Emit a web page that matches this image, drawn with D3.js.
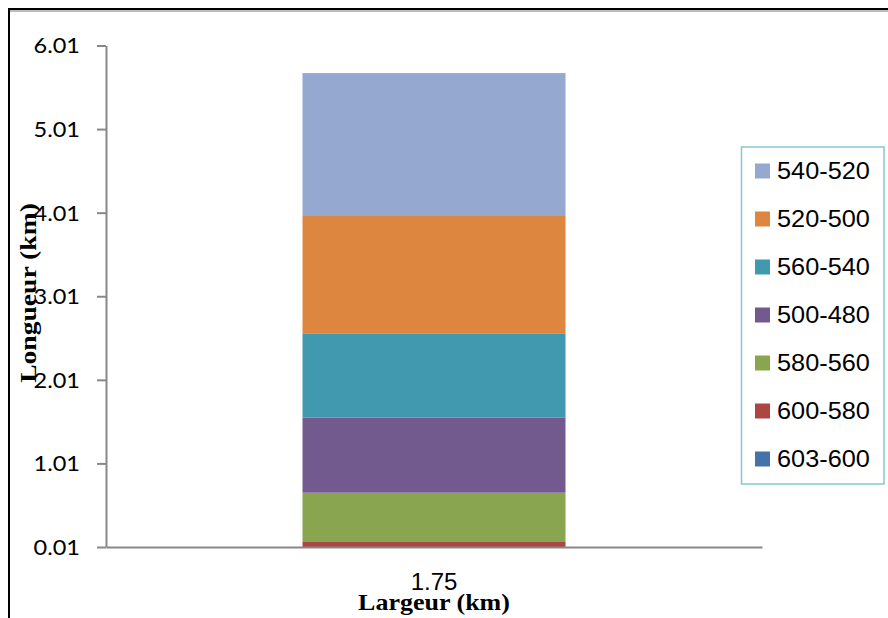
<!DOCTYPE html>
<html>
<head>
<meta charset="utf-8">
<script src="https://cdn.jsdelivr.net/npm/d3@7/dist/d3.min.js"></script>
<style>
  html, body { margin: 0; padding: 0; background: #fff; }
  svg { display: block; }
</style>
</head>
<body>
<svg id="chart" width="888" height="618"></svg>
<script>
// Data
const categories = ["1.75"];
const seriesNames = ["603-600", "600-580", "580-560", "500-480", "560-540", "520-500", "540-520"];
const seriesValues = [0.01, 0.06, 0.59, 0.90, 1.00, 1.42, 1.70];
const seriesColors = ["#4572a7", "#aa4744", "#8aa54f", "#725a8f", "#4199b0", "#dd8640", "#95a9d0"];
const yTicks = [0.01, 1.01, 2.01, 3.01, 4.01, 5.01, 6.01];
const legendOrder = ["540-520", "520-500", "560-540", "500-480", "580-560", "600-580", "603-600"];

const svg = d3.select("#chart");

// Widen a text element horizontally by a factor
function widen(sel, factor) {
  sel.each(function () {
    const w = this.getComputedTextLength();
    d3.select(this).attr("textLength", w * factor).attr("lengthAdjust", "spacingAndGlyphs");
  });
}

// Frame around the figure
svg.append("line").attr("x1", 8).attr("x2", 888).attr("y1", 11).attr("y2", 11)
  .attr("stroke", "#bbb").attr("stroke-width", 2);
svg.append("line").attr("x1", 8).attr("x2", 888).attr("y1", 9).attr("y2", 9)
  .attr("stroke", "#000").attr("stroke-width", 2);
svg.append("line").attr("x1", 9).attr("x2", 9).attr("y1", 9).attr("y2", 618)
  .attr("stroke", "#000").attr("stroke-width", 2);

const plot = { left: 106, right: 762, top: 45.5, bottom: 547 };

const x = d3.scaleBand().domain(categories).range([plot.left, plot.right]).paddingInner(0).paddingOuter(0.5);
const y = d3.scaleLinear().domain([0.01, 6.01]).range([plot.bottom, plot.top]);

// Stack the series on the single category
const row = { cat: categories[0] };
seriesNames.forEach((n, i) => row[n] = seriesValues[i]);
const stacked = d3.stack().keys(seriesNames)([row]);
const color = d3.scaleOrdinal().domain(seriesNames).range(seriesColors);

svg.append("clipPath").attr("id", "plotclip").append("rect")
  .attr("x", plot.left).attr("y", 0).attr("width", plot.right - plot.left).attr("height", plot.bottom);

const barW = 263;
const cx = x(categories[0]) + x.bandwidth() / 2;
svg.append("g").attr("clip-path", "url(#plotclip)")
  .selectAll("g").data(stacked).join("g")
  .attr("fill", d => color(d.key))
  .selectAll("rect").data(d => d).join("rect")
  .attr("x", cx - barW / 2)
  .attr("width", barW)
  .attr("y", d => y(d[1]))
  .attr("height", d => Math.max(0, y(Math.max(d[0], 0.01)) - y(d[1])));

// Y axis
const yAxis = d3.axisLeft(y).tickValues(yTicks).tickFormat(d3.format(".2f")).tickSize(9).tickSizeOuter(0);
const gy = svg.append("g").attr("transform", `translate(${plot.left},0)`).call(yAxis);
gy.select(".domain").attr("stroke", "#888").attr("stroke-width", 2);
gy.selectAll(".tick line").attr("stroke", "#888").attr("stroke-width", 2);
gy.selectAll(".tick text").attr("x", -26).attr("dy", "0.35em").attr("font-family", "Lato, 'Open Sans', sans-serif")
  .attr("font-size", 21).attr("fill", "#000").call(widen, 1.12);

// X axis
const xAxis = d3.axisBottom(x).tickSize(0).tickSizeOuter(0);
const gx = svg.append("g").attr("transform", `translate(0,${plot.bottom})`).call(xAxis);
gx.select(".domain").attr("stroke", "#888").attr("stroke-width", 2);
gx.selectAll(".tick text").attr("dy", 0).attr("y", 43)
  .attr("font-family", "'Liberation Sans', Arial, sans-serif").attr("font-size", 24).attr("fill", "#000");

// Axis titles
svg.append("text").attr("x", cx).attr("y", 610).attr("text-anchor", "middle")
  .attr("font-family", "'Liberation Serif', 'Times New Roman', serif").attr("font-weight", "bold")
  .attr("font-size", 23).text("Largeur (km)").call(widen, 1.13);
svg.append("text").attr("transform", "translate(36,293) rotate(-90)").attr("text-anchor", "middle")
  .attr("font-family", "'Liberation Serif', 'Times New Roman', serif").attr("font-weight", "bold")
  .attr("font-size", 23).text("Longueur (km)").call(widen, 1.2);

// Legend
const legend = svg.append("g");
legend.append("rect").attr("x", 741.5).attr("y", 147).attr("width", 142.5).attr("height", 337)
  .attr("fill", "#fff").attr("stroke", "#86c6d3").attr("stroke-width", 1.5);
const li = legend.selectAll("g.item").data(legendOrder).join("g").attr("class", "item")
  .attr("transform", (d, i) => `translate(755,${171 + i * 48})`);
li.append("rect").attr("x", 0).attr("y", -7.5).attr("width", 15).attr("height", 15)
  .attr("fill", d => color(d));
li.append("text").attr("x", 22).attr("y", 8)
  .attr("font-family", "'Liberation Sans', Arial, sans-serif").attr("font-size", 23).attr("fill", "#000")
  .text(d => d).call(widen, 1.1);
</script>
</body>
</html>
